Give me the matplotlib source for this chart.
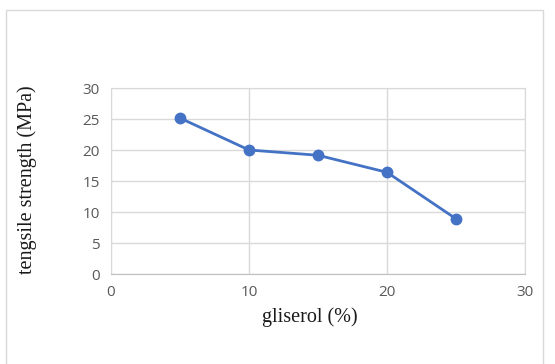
import matplotlib
matplotlib.use("Agg")
import matplotlib.pyplot as plt
from matplotlib.patches import Rectangle

# gliserol content (%) vs tensile strength (MPa)
gliserol = [5, 10, 15, 20, 25]
strength = [25.2, 20.05, 19.2, 16.45, 8.95]

x_ticks = [0, 10, 20, 30]
y_ticks = [0, 5, 10, 15, 20, 25, 30]

fig = plt.figure(figsize=(5.55, 3.64), dpi=100)
# outer chart frame like the Excel chart border
fig.patches.append(Rectangle((6 / 555, -0.01), 537 / 555, 1 - 10 / 364 + 0.01,
                             transform=fig.transFigure, fill=False,
                             edgecolor="#d9d9d9", linewidth=1.0))

ax = fig.add_axes([111 / 555, 1 - 274.3 / 364, 414 / 555, 186 / 364])
ax.plot(gliserol, strength, color="#4472c4", linewidth=2, marker="o",
        markersize=7.5, zorder=3)

ax.set_xlim(0, 30)
ax.set_ylim(0, 30)
ax.set_xticks(x_ticks)
ax.set_yticks(y_ticks)
ax.grid(True, color="#d9d9d9", linewidth=1)
ax.set_axisbelow(True)
for s in ["top", "right", "left"]:
    ax.spines[s].set_color("#d9d9d9")
ax.spines["bottom"].set_color("#bfbfbf")
ax.tick_params(length=0, labelsize=11, labelcolor="#595959", pad=8)
for lab in ax.get_xticklabels() + ax.get_yticklabels():
    lab.set_family("Open Sans")

ax.set_xlabel("gliserol (%)", family="Liberation Serif", fontsize=14.5,
              color="#1a1a1a")
ax.set_ylabel("tengsile strength (MPa)", family="Liberation Serif",
              fontsize=14.5, color="#1a1a1a")
ax.xaxis.set_label_coords(0.481, -0.176)
ax.yaxis.set_label_coords(-0.178, 0.507)

fig.savefig("out.png", dpi=100)
